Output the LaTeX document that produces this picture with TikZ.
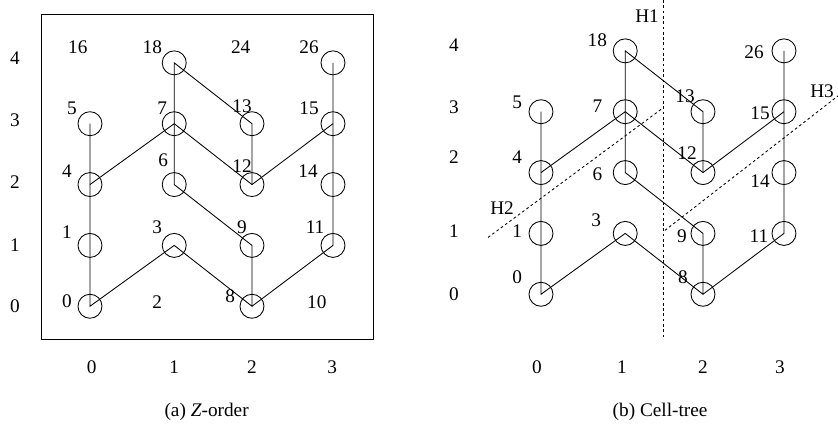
\documentclass[tikz,border=0pt]{standalone}
\usepackage{fontspec}
\setmainfont{Liberation Serif}

\tikzset{
  cell/.style={circle,draw,minimum size=0.635cm,inner sep=0pt},
  num/.style n args={3}{label={[xshift=#1pt,yshift=#2pt]center:#3}},
  cut/.style={dash pattern=on 2pt off 2pt}
}

\begin{document}
\begin{tikzpicture}[x=2.143cm,y=1.61cm,line width=0.65pt,
    font=\fontsize{14.5}{17}\selectfont]
  \useasboundingbox (-1.111,-1.951) rectangle (9.235,5.033);

  % (a) Z-order
  \draw (-0.605,-0.54) rectangle (3.494,4.8);
  \draw (0,0) node[cell,num={-17.3}{3.8}{0}] (a0) {};
  \draw (0,1) node[cell,num={-17.3}{9.8}{1}] (a1) {};
  \draw (0,2) node[cell,num={-17.3}{10}{4}] (a4) {};
  \draw (0,3) node[cell,num={-13.5}{11.6}{5}] (a5) {};
  \draw (1.04,1) node[cell,num={-12.8}{13.5}{3}] (a3) {};
  \draw (1.04,2) node[cell,num={-8.3}{18.4}{6}] (a6) {};
  \draw (1.04,3) node[cell,num={-9}{11.6}{7}] (a7) {};
  \draw (1.04,4) node[cell,num={-16.5}{12}{18}] (a18) {};
  \draw (2,0) node[cell,num={-16.5}{7.5}{8}] (a8) {};
  \draw (2,1) node[cell,num={-7.5}{13.5}{9}] (a9) {};
  \draw (2,2) node[cell,num={-7.5}{13.9}{12}] (a12) {};
  \draw (2,3) node[cell,num={-7.5}{13.1}{13}] (a13) {};
  \draw (3,1) node[cell,num={-13.5}{13.5}{11}] (a11) {};
  \draw (3,2) node[cell,num={-18.8}{10.1}{14}] (a14) {};
  \draw (3,3) node[cell,num={-18}{11.6}{15}] (a15) {};
  \draw (3,4) node[cell,num={-18}{12}{26}] (a26) {};
  \node (a16) at (-0.15,4.26) {16};
  \node (a24) at (1.86,4.26) {24};
  \node (a2) at (0.83,0.07) {2};
  \node (a10) at (2.80,0.07) {10};

  \draw (a5.center) -- (a4.center) -- (a1.center) -- (a0.center)
    -- (a3.center) -- (a8.center) -- (a9.center) -- (a6.center)
    -- (a7.center) -- (a18.center) -- (a13.center) -- (a12.center);
  \draw (a4.center) -- (a7.center) -- (a12.center) -- (a15.center);
  \draw (a8.center) -- (a11.center) -- (a14.center) -- (a15.center)
    -- (a26.center);

  \foreach \r/\y in {0/0,1/1,2/2.04,3/3.05,4/4.08}
    \node (ra\r) at (-0.926,\y) {\r};
  \foreach \c/\x in {0/0.02,1/1.04,2/2,3/2.99}
    \node (ca\c) at (\x,-1) {\c};
  \node (capa) at (1.44,-1.73) {(a) \textit{Z}-order};

  % (b) Cell-tree
  \begin{scope}[shift={(5.568,0.197)}]
    \draw (0,0) node[cell,num={-18}{12.8}{0}] (b0) {};
    \draw (0,1) node[cell,num={-18}{1.5}{1}] (b1) {};
    \draw (0,2) node[cell,num={-18}{11.3}{4}] (b4) {};
    \draw (0,3) node[cell,num={-18}{6.8}{5}] (b5) {};
    \draw (1.04,1) node[cell,num={-21.8}{9.8}{3}] (b3) {};
    \draw (1.04,2) node[cell,num={-21}{-1.5}{6}] (b6) {};
    \draw (1.04,3) node[cell,num={-21}{3.8}{7}] (b7) {};
    \draw (1.04,4) node[cell,num={-21}{8.3}{18}] (b18) {};
    \draw (2,0) node[cell,num={-15}{12.8}{8}] (b8) {};
    \draw (2,1) node[cell,num={-15.8}{-2.3}{9}] (b9) {};
    \draw (2,2) node[cell,num={-12}{15}{12}] (b12) {};
    \draw (2,3) node[cell,num={-13.5}{11.3}{13}] (b13) {};
    \draw (3,1) node[cell,num={-18.8}{-2.3}{11}] (b11) {};
    \draw (3,2) node[cell,num={-18}{-6.8}{14}] (b14) {};
    \draw (3,3) node[cell,num={-18}{-1.5}{15}] (b15) {};
    \draw (3,4) node[cell,num={-22.5}{-0.8}{26}] (b26) {};

    \draw (b5.center) -- (b4.center) -- (b1.center) -- (b0.center)
      -- (b3.center) -- (b8.center) -- (b9.center) -- (b6.center)
      -- (b7.center) -- (b18.center) -- (b13.center) -- (b12.center);
    \draw (b4.center) -- (b7.center) -- (b12.center) -- (b15.center);
    \draw (b8.center) -- (b11.center) -- (b14.center) -- (b15.center)
      -- (b26.center);

    % split lines
    \coordinate (h1t) at (1.506,4.836);
    \coordinate (h1b) at (1.506,-0.72);
    \coordinate (h2s) at (-0.654,0.934);
    \coordinate (h2e) at (1.494,3.05);
    \coordinate (h3s) at (1.53,1.05);
    \coordinate (h3e) at (3.667,3.26);
    \draw[cut] (h1t) -- (h1b);
    \draw[cut] (h2s) -- (h2e);
    \draw[cut] (h3s) -- (h3e);
    \node (h1) at (1.31,4.57) {H1};
    \node (h2) at (-0.48,1.41) {H2};
    \node (h3) at (3.47,3.33) {H3};

    \foreach \r/\y in {0/0,1/1.03,2/2.25,3/3.07,4/4.1}
      \node (rb\r) at (-1.074,\y) {\r};
    \foreach \c/\x in {0/-0.05,1/1,2/2,3/2.95}
      \node (cb\c) at (\x,-1.2) {\c};
    \node (capb) at (1.47,-1.93) {(b) Cell-tree};
  \end{scope}
\end{tikzpicture}
\end{document}
